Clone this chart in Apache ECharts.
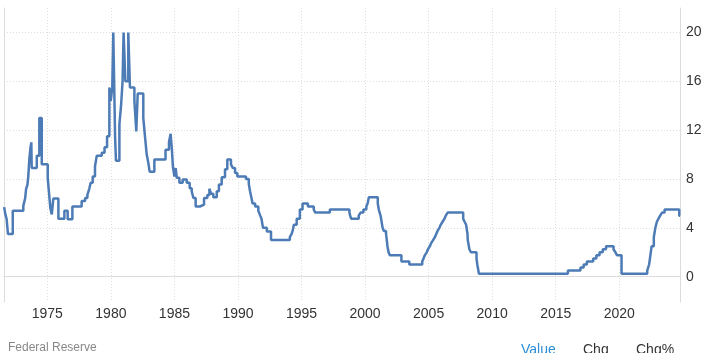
<!DOCTYPE html>
<html>
<head>
<meta charset="utf-8">
<script src="https://cdn.jsdelivr.net/npm/echarts@6/dist/echarts.min.js"></script>
<style>
  html, body { margin: 0; padding: 0; background: #fff; }
  #chart { width: 711px; height: 353px; }
</style>
</head>
<body>
<div id="chart"></div>
<script>
// decimal year of each rate change
const dates = [
  1971.60, 1971.70, 1971.80, 1971.90, 1972.28, 1973.11, 1973.25, 1973.33, 1973.43, 1973.50,
  1973.58, 1973.68, 1973.74, 1973.77, 1974.17, 1974.37, 1974.56, 1975.03, 1975.12, 1975.18,
  1975.24, 1975.35, 1975.47, 1975.87, 1976.34, 1976.60, 1976.97, 1977.70, 1977.97, 1978.15,
  1978.30, 1978.41, 1978.57, 1978.75, 1978.89, 1979.28, 1979.50, 1979.70, 1979.88, 1979.99,
  1980.11, 1980.19, 1980.33, 1980.40, 1980.67, 1980.80, 1980.92, 1981.00, 1981.14, 1981.37,
  1981.50, 1981.85, 1982.00, 1982.11, 1982.55, 1982.69, 1982.82, 1982.95, 1983.05, 1983.42,
  1984.30, 1984.57, 1984.70, 1984.80, 1984.88, 1985.00, 1985.10, 1985.18, 1985.39, 1985.65,
  1985.97, 1986.20, 1986.36, 1986.49, 1986.67, 1987.00, 1987.33, 1987.59, 1987.75, 1987.88,
  1988.06, 1988.33, 1988.50, 1988.72, 1988.98, 1989.16, 1989.45, 1989.59, 1989.77, 1989.95,
  1990.63, 1990.85, 1990.95, 1991.05, 1991.15, 1991.35, 1991.60, 1991.75, 1991.85, 1991.97,
  1992.27, 1992.60, 1994.08, 1994.22, 1994.30, 1994.40, 1994.62, 1994.87, 1995.08, 1995.50,
  1995.96, 1996.08, 1997.23, 1998.77, 1998.83, 1998.90, 1999.50, 1999.65, 1999.87, 2000.10,
  2000.20, 2000.30, 2001.00, 2001.08, 2001.22, 2001.30, 2001.38, 2001.48, 2001.65, 2001.71,
  2001.76, 2001.85, 2001.95, 2002.86, 2003.48, 2004.50, 2004.60, 2004.70, 2004.85, 2004.95,
  2005.10, 2005.20, 2005.35, 2005.50, 2005.60, 2005.70, 2005.85, 2005.95, 2006.10, 2006.25,
  2006.35, 2006.50, 2007.72, 2007.83, 2007.95, 2008.06, 2008.08, 2008.21, 2008.33, 2008.77,
  2008.83, 2008.96, 2015.96, 2016.95, 2017.20, 2017.45, 2017.95, 2018.20, 2018.45, 2018.70,
  2018.96, 2019.55, 2019.70, 2019.83, 2020.18, 2022.20, 2022.35, 2022.45, 2022.55, 2022.72,
  2022.84, 2022.96, 2023.09, 2023.22, 2023.37, 2023.57, 2024.72, 2024.78
];
const rates = [
  5.7, 5.1, 4.7, 3.5, 5.4, 5.8, 6.4, 7.2, 7.5, 8.2,
  9.6, 10.6, 11.0, 8.9, 9.9, 13.0, 9.2, 8.1, 7.0, 6.3,
  5.6, 5.1, 6.4, 4.75, 5.4, 4.7, 5.75, 6.2, 6.45, 6.7,
  7.2, 7.7, 8.2, 9.05, 9.9, 10.15, 10.6, 11.5, 15.5, 14.4,
  15.5, 20.0, 11.5, 9.5, 12.5, 14.0, 16.0, 20.0, 16.0, 20.0,
  15.5, 14.4, 11.9, 15.0, 13.0, 11.4, 10.0, 9.3, 8.6, 9.6,
  10.4, 11.0, 11.7, 10.4, 9.0, 8.2, 8.9, 8.1, 7.7, 7.95,
  7.7, 7.25, 7.0, 6.45, 5.75, 5.9, 6.45, 6.7, 7.2, 6.8,
  6.5, 7.0, 7.55, 8.15, 8.8, 9.6, 9.2, 8.9, 8.5, 8.2,
  8.0, 7.6, 7.0, 6.5, 6.0, 5.75, 5.4, 5.0, 4.75, 4.0,
  3.7, 3.0, 3.25, 3.5, 3.75, 4.25, 4.75, 5.5, 6.0, 5.75,
  5.5, 5.25, 5.5, 5.25, 5.0, 4.75, 5.0, 5.25, 5.5, 5.75,
  6.0, 6.5, 6.0, 5.5, 5.0, 4.5, 4.0, 3.75, 3.5, 3.0,
  2.5, 2.0, 1.75, 1.25, 1.0, 1.25, 1.5, 1.75, 2.0, 2.25,
  2.5, 2.75, 3.0, 3.25, 3.5, 3.75, 4.0, 4.25, 4.5, 4.75,
  5.0, 5.25, 4.75, 4.5, 4.25, 3.5, 3.0, 2.25, 2.0, 1.5,
  1.0, 0.25, 0.5, 0.75, 1.0, 1.25, 1.5, 1.75, 2.0, 2.25,
  2.5, 2.25, 2.0, 1.75, 0.25, 0.5, 1.0, 1.75, 2.5, 3.25,
  4.0, 4.5, 4.75, 5.0, 5.25, 5.5, 5.0, 5.0
];
const yearTicks = [1975, 1980, 1985, 1990, 1995, 2000, 2005, 2010, 2015, 2020];
const valueTicks = [0, 4, 8, 12, 16, 20];

const chart = echarts.init(document.getElementById('chart'));

const gridLine = { show: true, lineStyle: { color: '#dedede', type: [1, 2], width: 1 } };

chart.setOption({
  animation: false,
  backgroundColor: '#fff',
  grid: { left: 4, right: 31, top: 8, bottom: 51, outerBoundsMode: 'none' },
  xAxis: {
    type: 'value',
    min: 1971.59,
    max: 2024.78,
    axisLine: { show: true, lineStyle: { color: '#dcdcdc' } },
    axisTick: { show: false, customValues: yearTicks },
    axisLabel: {
      customValues: yearTicks,
      color: '#333',
      fontSize: 14,
      fontFamily: 'Liberation Sans, Arial, sans-serif',
      margin: 5,
      formatter: v => String(v)
    },
    splitLine: gridLine
  },
  yAxis: [{
    type: 'value',
    position: 'right',
    min: -2.07,
    max: 22,
    axisLine: { show: true, lineStyle: { color: '#dcdcdc' } },
    axisTick: { show: false, customValues: valueTicks },
    axisLabel: {
      customValues: valueTicks,
      color: '#333',
      fontSize: 14,
      fontFamily: 'Liberation Sans, Arial, sans-serif',
      margin: 6,
      align: 'left'
    },
    splitLine: gridLine
  }, {
    type: 'value',
    position: 'left',
    min: -2.07,
    max: 22,
    axisLine: { show: true, lineStyle: { color: '#dcdcdc' } },
    axisTick: { show: false },
    axisLabel: { show: false },
    splitLine: { show: false }
  }],
  series: [{
    type: 'line',
    step: 'end',
    showSymbol: false,
    yAxisIndex: 0,
    lineStyle: { color: '#4d7bb6', width: 2.5 },
    data: dates.map((d, i) => [d, rates[i]])
  }],
  graphic: [
    { type: 'text', left: 8, top: 342, style: { text: 'Federal Reserve', fill: '#888', font: '12px Liberation Sans, Arial, sans-serif' } },
    { type: 'text', left: 521, top: 343, style: { text: 'Value', fill: '#2b8ed6', font: '14px Liberation Sans, Arial, sans-serif' } },
    { type: 'text', left: 583, top: 343, style: { text: 'Chg', fill: '#333', font: '14px Liberation Sans, Arial, sans-serif' } },
    { type: 'text', left: 636, top: 343, style: { text: 'Chg%', fill: '#333', font: '14px Liberation Sans, Arial, sans-serif' } }
  ]
});
</script>
</body>
</html>
